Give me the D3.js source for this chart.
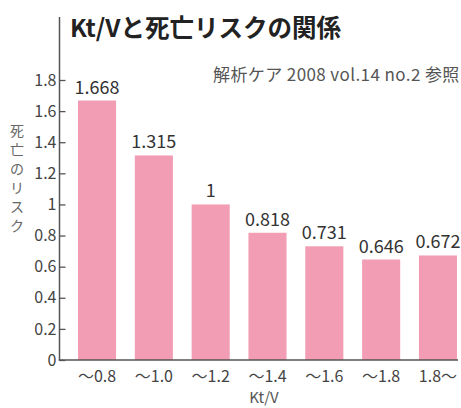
<!DOCTYPE html>
<html><head><meta charset="utf-8">
<script src="https://cdn.jsdelivr.net/npm/d3@7"></script>
<style>
body{margin:0;background:#fff;}
svg{display:block;font-family:"Noto Sans CJK JP","Noto Sans",sans-serif;}
</style></head>
<body><svg id="c" width="461" height="408"></svg>
<script>
const categories = ["〜0.8","〜1.0","〜1.2","〜1.4","〜1.6","〜1.8","1.8〜"];
const values = [1.668, 1.315, 1, 0.818, 0.731, 0.646, 0.672];
const valueLabels = ["1.668","1.315","1","0.818","0.731","0.646","0.672"];
const yTicks = [0,0.2,0.4,0.6,0.8,1,1.2,1.4,1.6,1.8];
const title = "Kt/Vと死亡リスクの関係";
const source = "解析ケア 2008 vol.14 no.2 参照";
const yLabel = "死亡のリスク";
const xLabel = "Kt/V";

const svg = d3.select("#c");
const axisX = 59.5, baseY = 360;
const x = d3.scaleBand().domain(categories).range([78, 457]).paddingInner(0.33).paddingOuter(0);
const y = d3.scaleLinear().domain([0,1.8]).range([baseY, 80]);
const axisColor = "#555";

// bars
svg.selectAll("rect.bar").data(values).join("rect")
  .attr("class","bar")
  .attr("x",(d,i)=>x(categories[i]))
  .attr("width",x.bandwidth())
  .attr("y",d=>y(d))
  .attr("height",d=>baseY-y(d))
  .attr("fill","#f29db4");

// value labels
svg.selectAll("text.val").data(values).join("text")
  .attr("class","val")
  .attr("x",(d,i)=>x(categories[i])+x.bandwidth()/2)
  .attr("y",d=>y(d)-7)
  .attr("text-anchor","middle")
  .attr("font-size",18)
  .attr("fill","#333")
  .text((d,i)=>valueLabels[i]);

// y axis
const yAxis = d3.axisLeft(y).tickValues(yTicks).tickSize(-6).tickPadding(10)
  .tickFormat(d=>d3.format("~g")(d));
const gy = svg.append("g").attr("transform",`translate(${axisX},0)`).call(yAxis);
gy.select(".domain").remove();
gy.selectAll(".tick line").attr("stroke",axisColor).attr("stroke-width",1.3);
gy.selectAll(".tick text").attr("font-size",16).attr("fill","#444")
  .attr("font-family","Noto Sans CJK JP").attr("x",-3);
svg.append("line").attr("x1",axisX).attr("x2",axisX).attr("y1",17).attr("y2",baseY+0.5)
  .attr("stroke",axisColor).attr("stroke-width",1.5);

// x axis
const xAxis = d3.axisBottom(x).tickSize(0).tickPadding(11);
const gx = svg.append("g").attr("transform",`translate(0,${baseY})`).call(xAxis);
gx.select(".domain").remove();
gx.selectAll(".tick text").attr("font-size",16).attr("fill","#444").attr("font-family","Noto Sans CJK JP");
svg.append("line").attr("x1",axisX-0.75).attr("x2",458).attr("y1",baseY).attr("y2",baseY)
  .attr("stroke",axisColor).attr("stroke-width",1.5);

// x label
svg.append("text").attr("x",264).attr("y",403).attr("text-anchor","middle")
  .attr("font-size",15).attr("fill","#555").text(xLabel);

// y label vertical
svg.append("g").selectAll("text").data(Array.from(yLabel)).join("text")
  .attr("x",17).attr("y",(d,i)=>136+i*19)
  .attr("text-anchor","middle").attr("font-size",14).attr("fill","#666").text(d=>d);

// title
svg.append("text").attr("x",70).attr("y",37).attr("font-size",24.5).attr("font-weight","bold")
  .attr("fill","#222").text(title);

// source
svg.append("text").attr("x",213).attr("y",81).attr("font-size",17).attr("letter-spacing",0.4)
  .attr("fill","#555").text(source);
</script></body></html>
